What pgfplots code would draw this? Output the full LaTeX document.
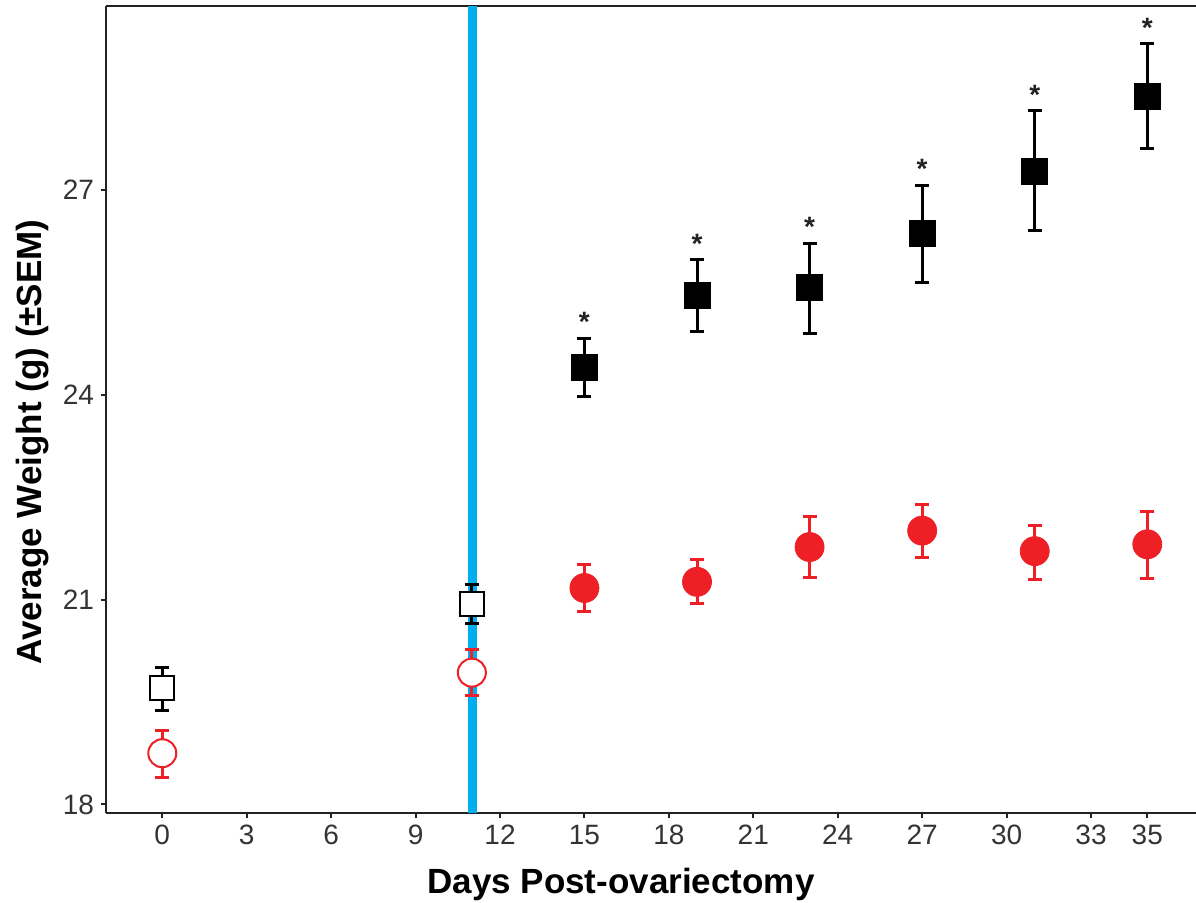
\documentclass[border=0pt]{standalone}
\usepackage{pgfplots}
\pgfplotsset{compat=1.18}
\usepackage{pgfplotstable}
\usepackage{fontspec}
\setmainfont{Liberation Sans}
\definecolor{cred}{HTML}{EE1F25}
\definecolor{cblue}{HTML}{00AEEF}
\definecolor{axc}{HTML}{222222}
\pgfplotstableread{
x y hi lo
0 19.70 20.00 19.38
11 20.94 21.22 20.65
}\blackopen
\pgfplotstableread{
x y hi lo
15 24.40 24.83 23.97
19 25.45 25.98 24.92
23 25.57 26.22 24.90
27 26.36 27.07 25.65
31 27.27 28.16 26.40
35 28.37 29.14 27.61
}\blackfill
\pgfplotstableread{
x y hi lo
0 18.75 19.09 18.40
11 19.93 20.27 19.59
}\redopen
\pgfplotstableread{
x y hi lo
15 21.17 21.51 20.82
19 21.26 21.59 20.94
23 21.77 22.22 21.32
27 22.01 22.39 21.62
31 21.71 22.09 21.30
35 21.81 22.29 21.31
}\redfill
\begin{document}
\begin{tikzpicture}
\useasboundingbox (-53pt,-44.35pt) rectangle (545pt,406.65pt);
\begin{axis}[
  scale only axis, width=545pt, height=403.5pt,
  xmin=-2, xmax=36.73, ymin=17.87, ymax=29.69,
  axis x line*=bottom, axis y line*=left,
  axis line style={-, line width=1.1pt, color=axc},
  tick align=outside, major tick length=2.5pt,
  tick style={line width=1pt, color=axc},
  xtick={0,3,6,9,12,15,18,21,24,27,30,33,35},
  ytick={18,21,24,27},
  /pgf/number format/assume math mode=true,
  ticklabel style={font=\fontsize{14}{14}\selectfont, text=black!80},
  xlabel={Days Post-ovariectomy},
  ylabel={Average Weight (g) (±SEM)},
  label style={font=\fontsize{17.5}{17.5}\selectfont\bfseries},
  xlabel style={xshift=-15pt, yshift=-4.5pt},
  ylabel style={at={(ticklabel cs:0.46)}},
  clip=false,
  error bars/y dir=both, error bars/y explicit,
  error bars/error bar style={line width=1.5pt},
  error bars/error mark options={rotate=90, mark size=3.5pt, line width=1.5pt},
]
\draw[line width=1.1pt, axc] (rel axis cs:0,1) -- (rel axis cs:1,1);
\addplot[cblue, line width=4.5pt] coordinates {(11.03,17.87) (11.03,29.69)};
% error bars
\addplot[black, draw=none, mark=none, error bars/error bar style={black, line width=1.5pt}, error bars/error mark options={black, rotate=90, mark size=3.5pt, line width=1.5pt}]
  table[x=x, y=y, y error plus expr=\thisrow{hi}-\thisrow{y}, y error minus expr=\thisrow{y}-\thisrow{lo}] {\blackopen};
\addplot[black, draw=none, mark=none, error bars/error bar style={black, line width=1.5pt}, error bars/error mark options={black, rotate=90, mark size=3.5pt, line width=1.5pt}]
  table[x=x, y=y, y error plus expr=\thisrow{hi}-\thisrow{y}, y error minus expr=\thisrow{y}-\thisrow{lo}] {\blackfill};
\addplot[cred, draw=none, mark=none, error bars/error bar style={cred, line width=1.5pt}, error bars/error mark options={cred, rotate=90, mark size=3.5pt, line width=1.5pt}]
  table[x=x, y=y, y error plus expr=\thisrow{hi}-\thisrow{y}, y error minus expr=\thisrow{y}-\thisrow{lo}] {\redopen};
\addplot[cred, draw=none, mark=none, error bars/error bar style={cred, line width=1.5pt}, error bars/error mark options={cred, rotate=90, mark size=3.5pt, line width=1.5pt}]
  table[x=x, y=y, y error plus expr=\thisrow{hi}-\thisrow{y}, y error minus expr=\thisrow{y}-\thisrow{lo}] {\redfill};
% markers
\addplot[only marks, mark=square*, mark size=6pt, mark options={draw=black, fill=white, line width=1pt}] table[x=x, y=y] {\blackopen};
\addplot[only marks, mark=square*, mark size=6.5pt, mark options={draw=black, fill=black, line width=0.4pt}] table[x=x, y=y] {\blackfill};
\addplot[only marks, mark=*, mark size=7pt, mark options={draw=cred, fill=white, line width=1pt}] table[x=x, y=y] {\redopen};
\addplot[only marks, mark=*, mark size=7.25pt, mark options={draw=cred, fill=cred, line width=0.4pt}] table[x=x, y=y] {\redfill};
% significance stars
\addplot[only marks, mark=none, nodes near coords={*},
  every node near coord/.style={anchor=center, yshift=8pt, font=\fontsize{14}{14}\selectfont\bfseries, text=axc}]
  table[x=x, y=hi] {\blackfill};
\end{axis}
\end{tikzpicture}
\end{document}
